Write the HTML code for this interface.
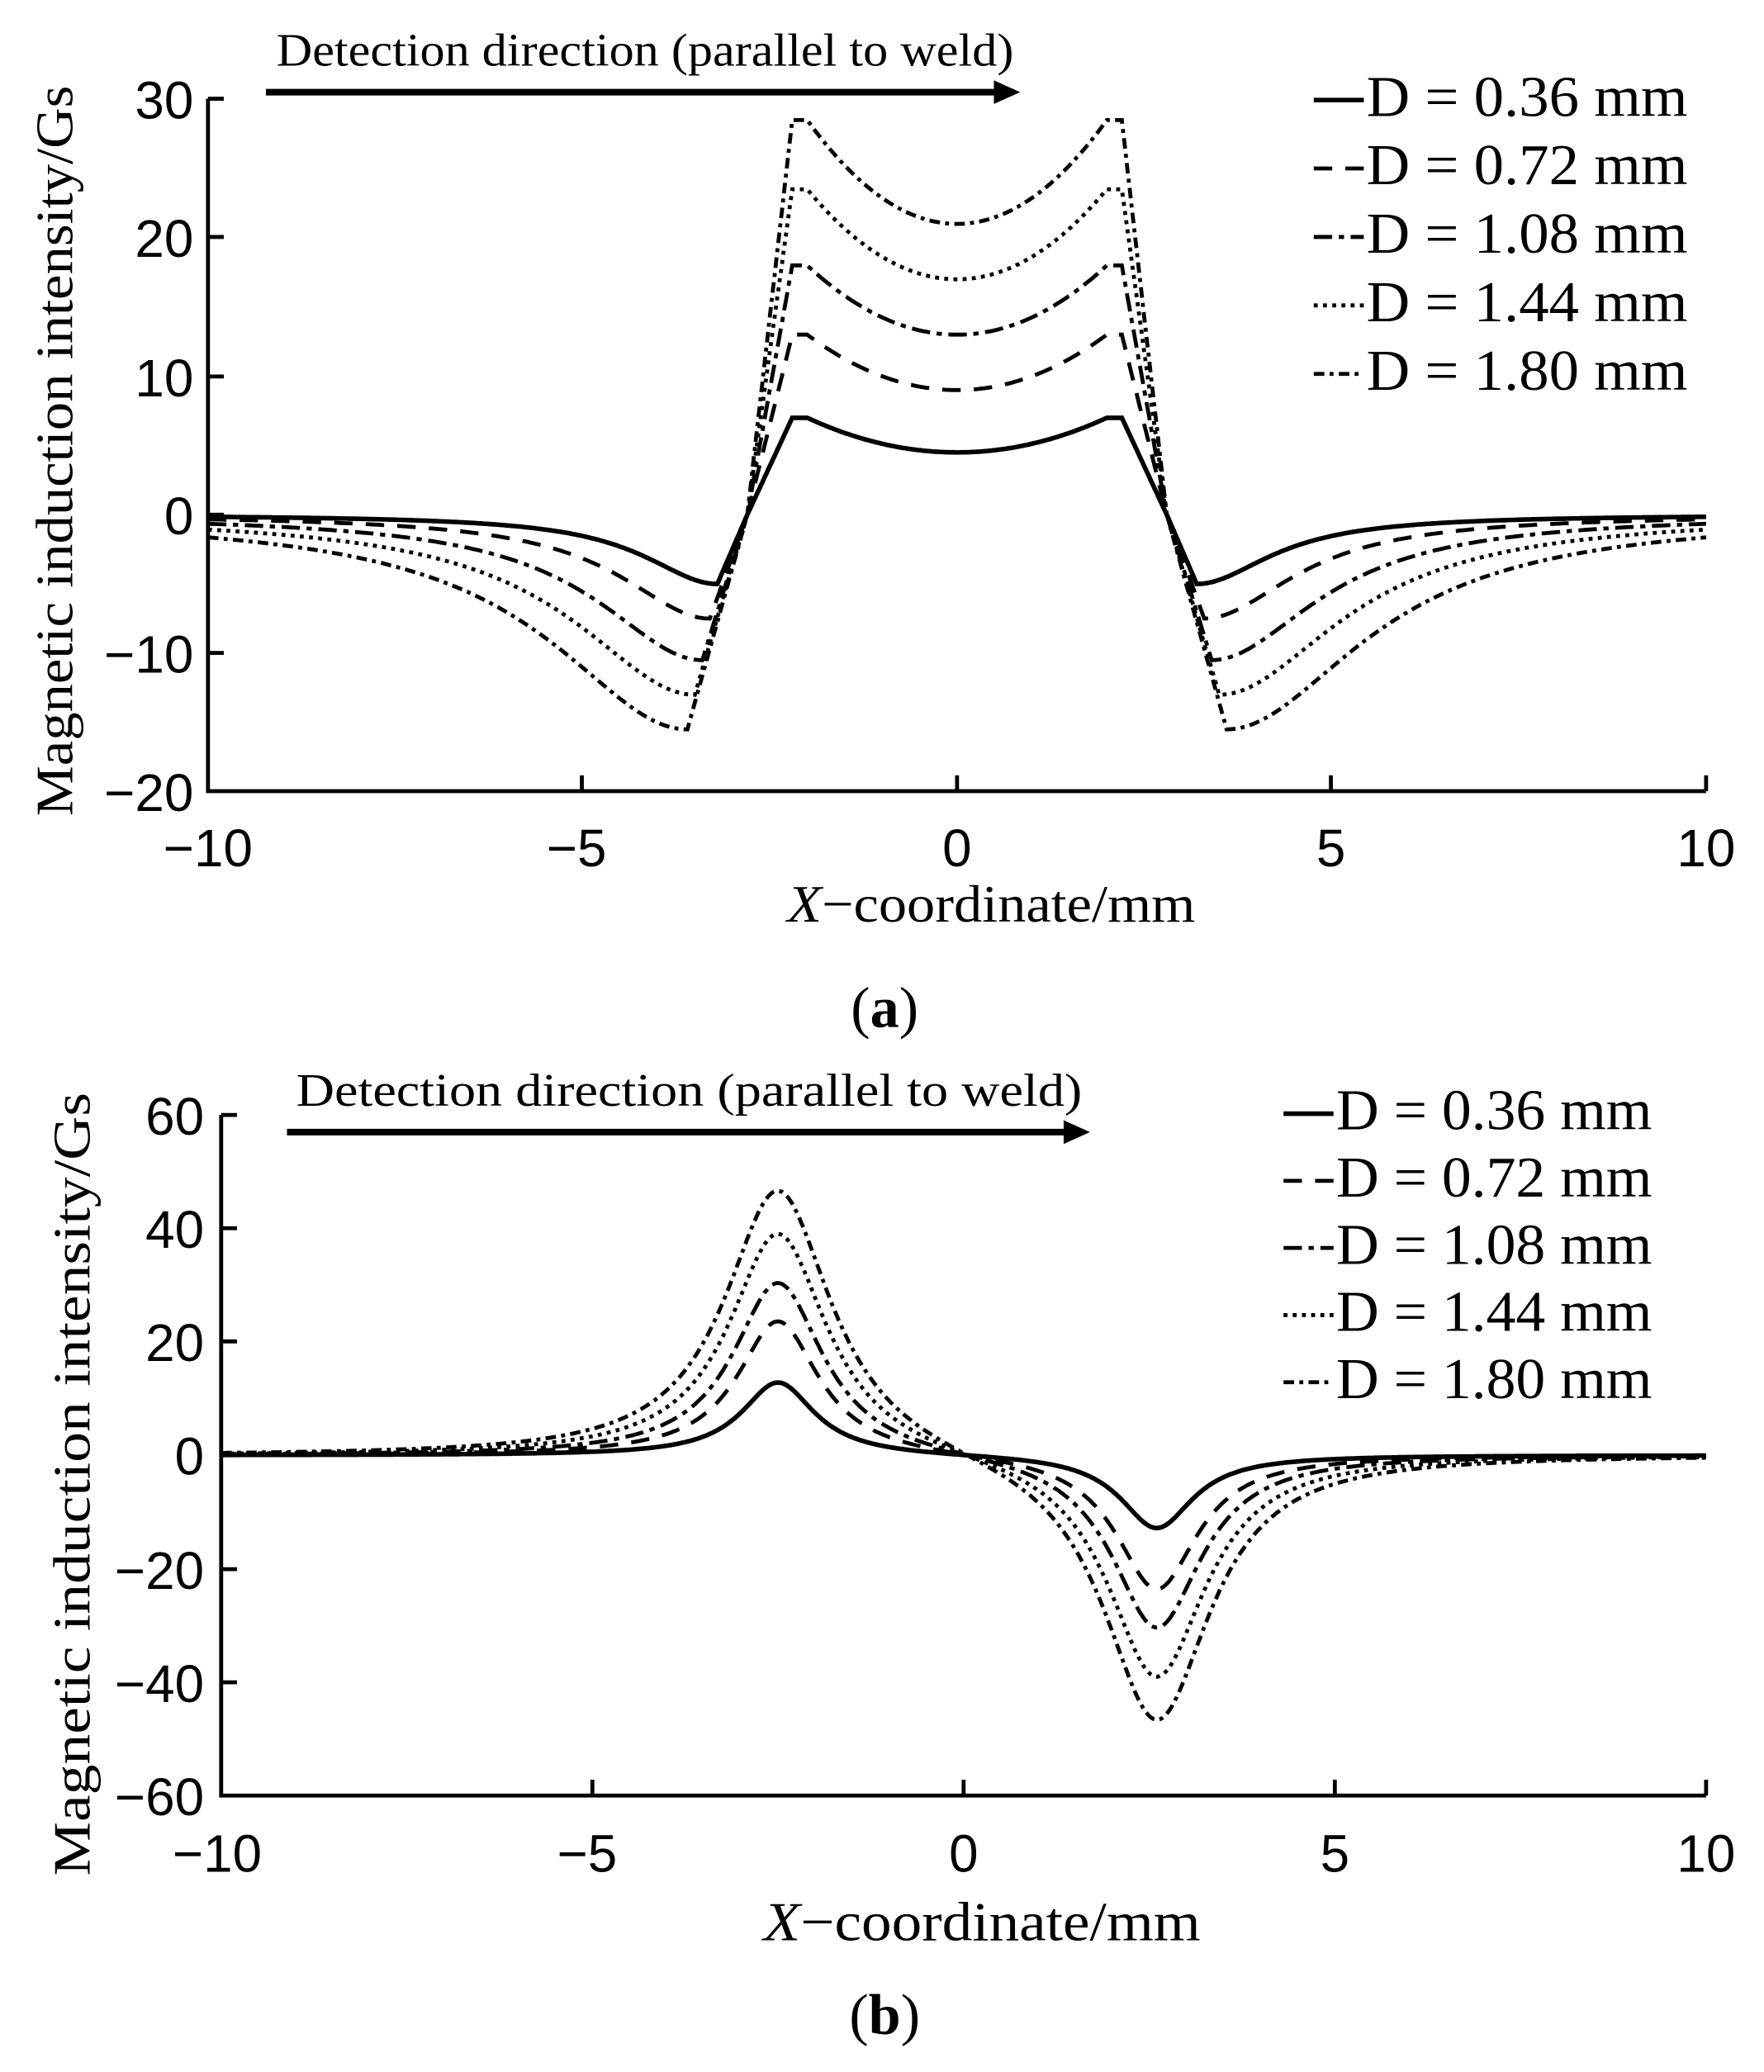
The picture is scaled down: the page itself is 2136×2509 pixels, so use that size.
<!DOCTYPE html>
<html><head><meta charset="utf-8"><style>
html,body{margin:0;padding:0;background:#fff}
svg{display:block}
.t{font-family:"Liberation Sans",sans-serif;font-size:40px;fill:#000}
.s{font-family:"Liberation Serif",serif;fill:#000}
</style></head><body>
<svg id="c" width="2136" height="2509" viewBox="0 0 1340 1574" preserveAspectRatio="none" xmlns="http://www.w3.org/2000/svg">
<g id="g"></g>
<g stroke="#000" stroke-width="3" fill="none">
<path d="M158,75 V601 H1296"/>
<path d="M158,75 h12 M158,180 h12 M158,286 h12 M158,391 h12 M158,496 h12"/>
<path d="M442,601 v-12 M727,601 v-12 M1011,601 v-12 M1296,601 v-12"/>
<path d="M202,70 H755" stroke-width="5"/>
</g>
<path d="M755,61 L775,70 L755,79 z"/>
<text class="s" x="210" y="50" font-size="35" textLength="560" lengthAdjust="spacingAndGlyphs">Detection direction (parallel to weld)</text>
<g class="t" text-anchor="end">
<text x="147" y="90">30</text><text x="147" y="195">20</text><text x="147" y="301">10</text><text x="147" y="406">0</text><text x="147" y="511">−10</text><text x="147" y="616">−20</text>
</g>
<g class="t" text-anchor="middle">
<text x="158" y="658">−10</text><text x="438" y="658">−5</text><text x="727" y="658">0</text><text x="1011" y="658">5</text><text x="1296" y="658">10</text>
</g>
<text class="s" x="598" y="700" font-size="40" textLength="310" lengthAdjust="spacingAndGlyphs"><tspan font-style="italic">X</tspan>−coordinate/mm</text>
<text class="s" transform="translate(55,620) rotate(-90)" font-size="40" textLength="555" lengthAdjust="spacingAndGlyphs">Magnetic induction intensity/Gs</text>
<text class="s" x="672" y="780" font-size="44" text-anchor="middle">(<tspan font-weight="bold">a</tspan>)</text>
<g stroke="#000" stroke-width="3" fill="none">
<path d="M168,847 V1364 H1296"/>
<path d="M168,847 h12 M168,933 h12 M168,1019 h12 M168,1105 h12 M168,1192 h12 M168,1278 h12"/>
<path d="M450,1364 v-12 M732,1364 v-12 M1014,1364 v-12 M1296,1364 v-12"/>
<path d="M218,860 H808" stroke-width="5"/>
</g>
<path d="M808,851 L828,860 L808,869 z"/>
<text class="s" x="225" y="840" font-size="35" textLength="597" lengthAdjust="spacingAndGlyphs">Detection direction (parallel to weld)</text>
<g class="t" text-anchor="end">
<text x="155" y="862">60</text><text x="155" y="948">40</text><text x="155" y="1034">20</text><text x="155" y="1120">0</text><text x="155" y="1207">−20</text><text x="155" y="1293">−40</text><text x="155" y="1379">−60</text>
</g>
<g class="t" text-anchor="middle">
<text x="165" y="1422">−10</text><text x="446" y="1422">−5</text><text x="732" y="1422">0</text><text x="1014" y="1422">5</text><text x="1296" y="1422">10</text>
</g>
<text class="s" x="580" y="1474" font-size="42" textLength="332" lengthAdjust="spacingAndGlyphs"><tspan font-style="italic">X</tspan>−coordinate/mm</text>
<text class="s" transform="translate(68,1425) rotate(-90)" font-size="40" textLength="595" lengthAdjust="spacingAndGlyphs">Magnetic induction intensity/Gs</text>
<text class="s" x="672" y="1545" font-size="44" text-anchor="middle">(<tspan font-weight="bold">b</tspan>)</text>
</svg>
<script>
var NS="http://www.w3.org/2000/svg",g=document.getElementById('g');
var dash=[null,"14,10","14,5,4,5","3,4","8,4,3,4"];
function path(pts,k){var p=document.createElementNS(NS,'path');var d='';pts.forEach(function(q,i){d+=(i?'L':'M')+q[0].toFixed(1)+','+q[1].toFixed(1)});p.setAttribute('d',d);p.setAttribute('fill','none');p.setAttribute('stroke','#000');p.setAttribute('stroke-width',k==0?3.5:3);if(dash[k])p.setAttribute('stroke-dasharray',dash[k]);g.appendChild(p);}
function line(x1,y,x2,k){path([[x1,y],[x2,y]],k);}
var C=[4.5,9,13,17,21],P=[7,13,18,23.5,28.5],M=[-5,-7.5,-10.5,-13,-15.5];
for(var k=0;k<5;k++){var pts=[];var xm=3.2+0.1*k,w=1.2+0.25*k;
for(var x=-10;x<=10.001;x+=0.02){var a=Math.abs(x),v;
if(a<=2)v=C[k]+(P[k]-C[k])*Math.pow(a/2,2);
else if(a<=2.2)v=P[k];
else if(a<=2.8)v=P[k]*(1-(a-2.2)/0.6);
else if(a<=xm)v=M[k]*(a-2.8)/(xm-2.8);
else{var d=a-xm;v=M[k]*w*w/(w*w+d*d);}
pts.push([727+x*56.9,391-v*10.52]);}
path(pts,k);}
var A=[13,24,31,40,48];
for(var k=0;k<5;k++){var pts=[];var w=0.6+0.07*k;
for(var x=-10;x<=10.001;x+=0.02){var L1=w*w/(w*w+Math.pow(x+2.5,2)),L2=w*w/(w*w+Math.pow(x-2.6,2));var v=A[k]*(L1-L2);
pts.push([732+x*56.4,1105.5-v*4.31]);}
path(pts,k);}
var la=["D = 0.36 mm","D = 0.72 mm","D = 1.08 mm","D = 1.44 mm","D = 1.80 mm"];
function legend(x,y0,dy,tl){for(var k=0;k<5;k++){var y=y0+k*dy;line(x,y-12,x+38,k);var t=document.createElementNS(NS,'text');t.setAttribute('x',x+40);t.setAttribute('y',y);t.setAttribute('class','s');t.setAttribute('font-size','44');t.setAttribute('textLength',tl);t.setAttribute('lengthAdjust','spacingAndGlyphs');t.textContent=la[k];g.appendChild(t);}}
legend(998,88,52,244);legend(975,858,51,240);
</script>
</body></html>
